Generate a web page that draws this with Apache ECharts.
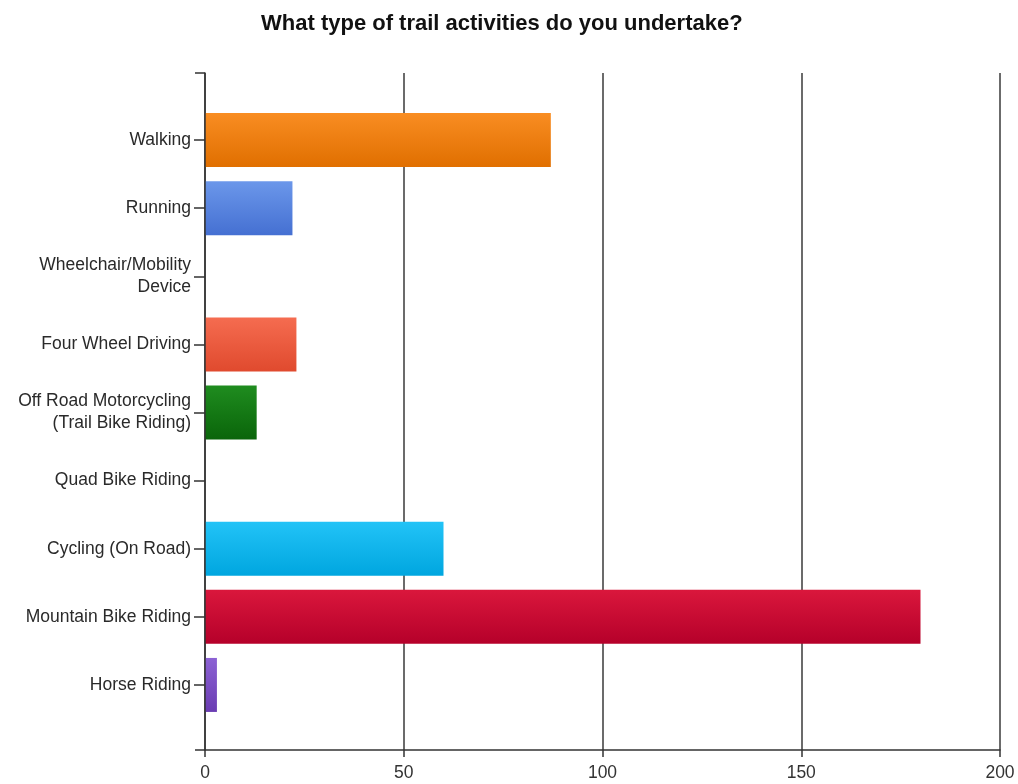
<!DOCTYPE html>
<html>
<head>
<meta charset="utf-8">
<script src="https://cdn.jsdelivr.net/npm/echarts@6/dist/echarts.min.js"></script>
<style>
  html, body { margin: 0; padding: 0; background: #fff; }
  #chart { width: 1018px; height: 784px; }
</style>
</head>
<body>
<div id="chart"></div>
<script>
// Survey responses: trail activities
const categories = [
  'Walking',
  'Running',
  'Wheelchair/Mobility\nDevice',
  'Four Wheel Driving',
  'Off Road Motorcycling\n(Trail Bike Riding)',
  'Quad Bike Riding',
  'Cycling (On Road)',
  'Mountain Bike Riding',
  'Horse Riding'
];
const counts = [87, 22, 0, 23, 13, 0, 60, 180, 3];
const xTicks = [0, 50, 100, 150, 200];

// top / bottom colours of each bar's vertical gradient
const barTop = ['#f98d22', '#6b97ea', '#ffffff', '#f56c50', '#1f8c1f', '#ffffff', '#22c3f7', '#da173c', '#8c62d4'];
const barBottom = ['#e06f00', '#4570d2', '#ffffff', '#e04a2e', '#0a650a', '#ffffff', '#00a6df', '#b5002a', '#6a3cb2'];

const chart = echarts.init(document.getElementById('chart'));

// zero counts get no drawn bar so the axis line stays visible
const barData = counts.map((v, i) => ({
  value: v === 0 ? '-' : v,
  itemStyle: {
    color: new echarts.graphic.LinearGradient(0, 0, 0, 1, [
      { offset: 0, color: barTop[i] },
      { offset: 1, color: barBottom[i] }
    ])
  }
}));

const font = 'Arial, "Liberation Sans", sans-serif';

chart.setOption({
  animation: false,
  backgroundColor: '#ffffff',
  title: {
    text: 'What type of trail activities do you undertake?',
    left: 256,
    top: 8,
    textStyle: { fontFamily: font, fontSize: 22, fontWeight: 'bold', color: '#111' }
  },
  grid: [
    // frame: value axis, vertical grid lines, outer axis lines
    { left: 205, right: 18, top: 73, bottom: 34 },
    // bars: category bands inset by half a band at each end
    { left: 205, right: 18, top: 106, bottom: 65 }
  ],
  xAxis: [
    {
      gridIndex: 0,
      type: 'value',
      min: xTicks[0],
      max: xTicks[xTicks.length - 1],
      interval: 50,
      axisLine: { show: true, lineStyle: { color: '#333', width: 1.5 } },
      axisTick: { show: true, length: 7, lineStyle: { color: '#333', width: 1.5 } },
      axisLabel: { fontFamily: font, fontSize: 17.5, color: '#333', margin: 14 },
      splitLine: { show: true, lineStyle: { color: '#3a3a3a', width: 1.5 } }
    },
    {
      gridIndex: 1,
      type: 'value',
      min: xTicks[0],
      max: xTicks[xTicks.length - 1],
      show: false
    }
  ],
  yAxis: [
    {
      gridIndex: 0,
      type: 'value',
      min: 0,
      max: 10,
      interval: 10,
      z: 5,
      axisLine: { show: true, lineStyle: { color: '#333', width: 1.5 } },
      axisTick: { show: true, length: 10, lineStyle: { color: '#333', width: 1.5 } },
      axisLabel: { show: false },
      splitLine: { show: false }
    },
    {
      gridIndex: 1,
      type: 'category',
      data: categories,
      inverse: true,
      axisLine: { show: false },
      axisTick: { show: true, alignWithLabel: true, length: 11, lineStyle: { color: '#333', width: 1.5 } },
      axisLabel: {
        fontFamily: font, fontSize: 17.5, color: '#2a2a2a', margin: 14,
        align: 'right', lineHeight: 22
      }
    }
  ],
  series: [
    {
      type: 'bar',
      xAxisIndex: 1,
      yAxisIndex: 1,
      data: barData,
      barWidth: 54
    }
  ]
});
</script>
</body>
</html>
